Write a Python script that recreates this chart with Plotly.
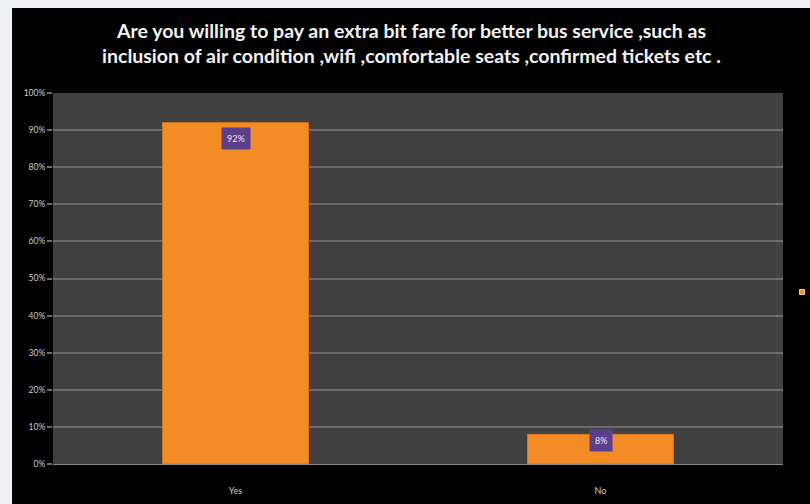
import plotly.graph_objects as go

# Survey answers and share of respondents
answers = ["Yes", "No"]
shares = [0.92, 0.08]
share_labels = ["92%", "8%"]
y_ticks = [i / 10 for i in range(11)]
y_tick_text = [f"{i * 10}%" for i in range(11)]

title_lines = [
    "Are you willing to pay an extra bit fare for better bus service ,such as",
    "inclusion of air condition ,wifi ,comfortable seats ,confirmed tickets etc .",
]

W, H = 810, 504
PLOT_L, PLOT_R, PLOT_T, PLOT_B = 53, 783, 93, 464
FONT = "Lato, Liberation Sans, sans-serif"

fig = go.Figure()

fig.add_trace(go.Bar(
    x=answers,
    y=shares,
    width=0.4,
    marker=dict(color="#f48c25", line=dict(color="#d9741c", width=1)),
    showlegend=False,
    hoverinfo="skip",
))

# Legend-only entry: tiny orange square on the right
fig.add_trace(go.Scatter(
    x=[None], y=[None], mode="markers", name=" ",
    marker=dict(symbol="square", size=5, color="#f68f26",
                line=dict(color="#ffd27a", width=1)),
    showlegend=True,
))

# Value labels in purple boxes near the top of each bar
for a, v, t in zip(answers, shares, share_labels):
    fig.add_annotation(
        x=a, y=v, xref="x", yref="y",
        text=t, showarrow=False,
        yanchor="top", yshift=-4 if v > 0.5 else 5,
        font=dict(family=FONT, size=9, color="#ece8f4"),
        bgcolor="#5b3f8f", borderpad=5,
    )

pw = PLOT_R - PLOT_L
ph = PLOT_B - PLOT_T

# Light page strips around the black chart card (top and left)
fig.add_shape(
    type="rect", xref="paper", yref="paper", layer="below",
    x0=(-5 - PLOT_L) / pw, x1=(W + 5 - PLOT_L) / pw,
    y0=(PLOT_B - 8) / ph, y1=(PLOT_B + 5) / ph,
    fillcolor="#eef0f3", line=dict(width=0),
)
fig.add_shape(
    type="rect", xref="paper", yref="paper", layer="below",
    x0=(-5 - PLOT_L) / pw, x1=(12 - PLOT_L) / pw,
    y0=(PLOT_B - (H + 5)) / ph, y1=(PLOT_B + 5) / ph,
    fillcolor="#eef0f3", line=dict(width=0),
)

fig.update_layout(
    width=W, height=H,
    margin=dict(l=PLOT_L, r=W - PLOT_R, t=PLOT_T, b=H - PLOT_B, autoexpand=False),
    paper_bgcolor="black",
    plot_bgcolor="#404040",
    title=dict(
        text="<b>" + "<br>".join(title_lines) + "</b>",
        x=0.508, xanchor="center", xref="container",
        y=1 - 38 / H, yanchor="middle", yref="container",
        font=dict(family=FONT, size=19.5, color="#f2f2f2"),
    ),
    xaxis=dict(
        showgrid=False,
        tickfont=dict(family=FONT, size=9, color="#d0d0d0"),
        ticks="", ticklabelstandoff=18,
        showline=True, linecolor="#8a8a8a", linewidth=1,
    ),
    yaxis=dict(
        range=[0, 1],
        tickvals=y_ticks, ticktext=y_tick_text,
        showgrid=True, gridcolor="#6c6c6c", gridwidth=2,
        zeroline=False,
        ticks="outside", ticklen=5, tickcolor="#6c6c6c", tickwidth=2,
        tickfont=dict(family=FONT, size=8.5, color="#cccccc"),
        showline=False,
    ),
    legend=dict(
        x=(782 - PLOT_L) / pw, xanchor="left",
        y=(PLOT_B - 292) / ph, yanchor="middle",
        bgcolor="rgba(0,0,0,0)",
        itemwidth=30,
        font=dict(size=6, color="#000000"),
    ),
)

fig.write_html("out.html")
